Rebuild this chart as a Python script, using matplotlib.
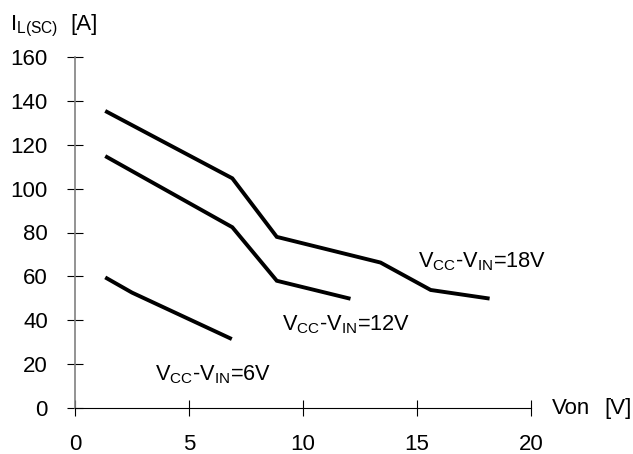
import matplotlib
matplotlib.use("Agg")
import matplotlib.pyplot as plt

plt.rcParams['font.family'] = ['Liberation Sans', 'DejaVu Sans']
plt.rcParams['mathtext.fontset'] = 'custom'
plt.rcParams['mathtext.rm'] = 'Liberation Sans'
plt.rcParams['mathtext.it'] = 'Liberation Sans'
plt.rcParams['mathtext.bf'] = 'Liberation Sans'

# Data
x_18 = [1.4, 6.9, 8.85, 13.4, 15.6, 18.1]
y_18 = [135, 104.7, 78, 66.3, 53.8, 50]
x_12 = [1.4, 6.9, 8.85, 12.0]
y_12 = [114.4, 82.4, 58, 50]
x_6 = [1.4, 2.5, 6.8]
y_6 = [59.1, 52.6, 31.8]

series_labels = ["V$_{\\mathrm{CC}}$-V$_{\\mathrm{IN}}$=18V",
                 "V$_{\\mathrm{CC}}$-V$_{\\mathrm{IN}}$=12V",
                 "V$_{\\mathrm{CC}}$-V$_{\\mathrm{IN}}$=6V"]
label_pos = [(15.05, 66.5), (9.1, 37.8), (3.5, 15.0)]

x_ticks = [0, 5, 10, 15, 20]
y_ticks = [0, 20, 40, 60, 80, 100, 120, 140, 160]

fig = plt.figure(figsize=(6.33, 4.54), dpi=100)
W, H = 633, 454
ax = fig.add_axes([75 / W, (H - 408) / H, (531 - 75) / W, (408 - 57) / H])

for xs, ys in [(x_18, y_18), (x_12, y_12), (x_6, y_6)]:
    ax.plot(xs, ys, color='black', lw=2.8, solid_joinstyle='miter', clip_on=False)

for txt, (tx, ty) in zip(series_labels, label_pos):
    ax.text(tx, ty, txt, fontsize=15.7, va='center', ha='left')

ax.set_xlim(0, 20)
ax.set_ylim(0, 160)
ax.set_xticks(x_ticks)
ax.set_yticks(y_ticks)
ax.tick_params(axis='both', direction='inout', length=11, width=0.8, colors='black', labelsize=16)
ax.tick_params(axis='y', pad=14)
ax.tick_params(axis='x', pad=13)

for s in ['top', 'right']:
    ax.spines[s].set_visible(False)
ax.spines['left'].set_color('#808080')
ax.spines['left'].set_linewidth(1.2)
ax.spines['bottom'].set_color('black')
ax.spines['bottom'].set_linewidth(0.8)

fig.text(10 / W, 1 - 30 / H, "I$_{\\mathrm{L(SC)}}$", fontsize=16, va='baseline', ha='left')
fig.text(70 / W, 1 - 30 / H, "[A]", fontsize=16, va='baseline', ha='left')
fig.text(552 / W, 1 - 414 / H, "Von", fontsize=16, va='baseline', ha='left')
fig.text(632 / W, 1 - 414 / H, "[V]", fontsize=16, va='baseline', ha='right')

fig.savefig("out.png", dpi=100)
